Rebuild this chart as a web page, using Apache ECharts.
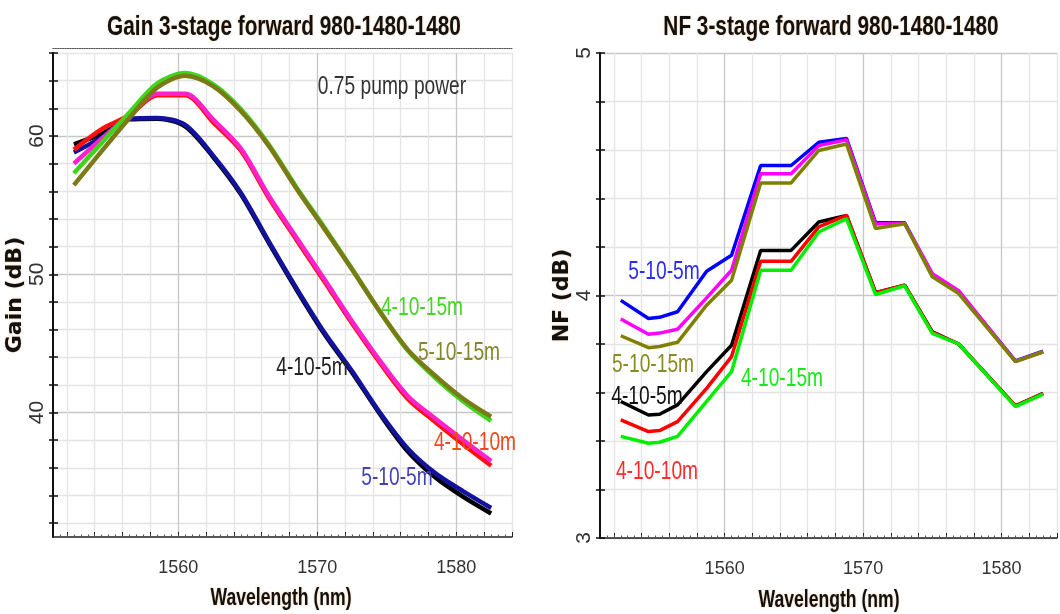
<!DOCTYPE html>
<html>
<head>
<meta charset="utf-8">
<title>Gain and NF, 3-stage forward 980-1480-1480</title>
<script src="https://cdn.jsdelivr.net/npm/echarts@6.0.0/dist/echarts.min.js"></script>
<style>
  html, body { margin: 0; padding: 0; background: #ffffff; }
  #chart { width: 1060px; height: 614px; }
</style>
</head>
<body>
<div id="chart"></div>
<script>
// ---------- Gain (dB) versus wavelength, left panel ----------
const gainWavelength = [1552.5, 1554.5, 1556.5, 1558.5, 1560.5, 1562.5, 1564.5, 1566.5,
                        1568.5, 1570.5, 1572.5, 1574.5, 1576.5, 1578.5, 1580.5, 1582.5];
const gain_4_10_5  = [59.4, 60.15, 61.2, 61.25, 60.7, 58.5, 55.8, 52.3, 48.9, 45.7, 42.9, 39.9, 37.2, 35.3, 33.9, 32.7];
const gain_5_10_5  = [58.8, 59.9, 61.25, 61.3, 60.8, 58.6, 55.9, 52.4, 49.0, 45.8, 43.0, 40.0, 37.4, 35.6, 34.3, 33.1];
const gain_4_10_10 = [59.0, 60.5, 61.5, 62.95, 62.95, 61.0, 58.95, 55.55, 52.5, 49.5, 46.45, 43.6, 41.0, 39.3, 37.7, 36.15];
const gain_5_10_10 = [58.0, 59.8, 61.5, 63.05, 63.05, 61.2, 59.1, 55.7, 52.65, 49.65, 46.6, 43.75, 41.2, 39.55, 38.0, 36.5];
const gain_4_10_15 = [57.3, 59.5, 61.7, 63.8, 64.55, 63.75, 61.95, 59.4, 56.3, 53.4, 50.4, 47.3, 44.5, 42.5, 40.8, 39.4];
const gain_5_10_15 = [56.45, 58.9, 61.3, 63.5, 64.35, 63.6, 61.8, 59.3, 56.2, 53.3, 50.35, 47.3, 44.55, 42.65, 41.0, 39.7];

// ---------- Noise figure (dB) versus wavelength, right panel ----------
const nfWavelength = [1552.5, 1554.5, 1555.3, 1556.6, 1558.7, 1560.5, 1562.6, 1564.8,
                      1566.8, 1568.8, 1570.9, 1573.0, 1575.0, 1576.9, 1581.0, 1583.0];
const nf_5_10_5  = [3.98, 3.905, 3.91, 3.933, 4.10, 4.166, 4.536, 4.536, 4.632, 4.648, 4.30, 4.30, 4.085, 4.015, 3.73, 3.77];
const nf_5_10_10 = [3.903, 3.84, 3.845, 3.861, 3.99, 4.104, 4.502, 4.502, 4.618, 4.642, 4.295, 4.298, 4.09, 4.02, 3.728, 3.768];
const nf_5_10_15 = [3.834, 3.785, 3.79, 3.807, 3.96, 4.063, 4.464, 4.464, 4.598, 4.625, 4.276, 4.296, 4.077, 4.008, 3.727, 3.768];
const nf_4_10_5  = [3.563, 3.507, 3.51, 3.549, 3.686, 3.795, 4.186, 4.186, 4.303, 4.33, 4.012, 4.043, 3.85, 3.80, 3.545, 3.597];
const nf_4_10_10 = [3.487, 3.439, 3.443, 3.480, 3.617, 3.748, 4.141, 4.141, 4.283, 4.33, 4.012, 4.043, 3.848, 3.80, 3.545, 3.595];
const nf_4_10_15 = [3.419, 3.391, 3.395, 3.419, 3.563, 3.686, 4.104, 4.104, 4.262, 4.317, 4.004, 4.040, 3.844, 3.80, 3.542, 3.593];

// ---------- axis ticks and tick labels ----------
const wlTicks  = [1552, 1554, 1556, 1558, 1560, 1562, 1564, 1566, 1568, 1570, 1572, 1574, 1576, 1578, 1580, 1582, 1584];
const wlLabels = [1560, 1570, 1580];
const gainTicks  = [32, 34, 36, 38, 40, 42, 44, 46, 48, 50, 52, 54, 56, 58, 60, 62, 64, 66];
const gainLabels = [40, 50, 60];
const nfTicks  = [3.0, 3.2, 3.4, 3.6, 3.8, 4.0, 4.2, 4.4, 4.6, 4.8, 5.0];
const nfLabels = [3, 4, 5];

// fine ticks along the wavelength axes, every half nanometre
const wlFineTicks = [];
for (let w = 1551.5; w < 1584; w += 0.5) wlFineTicks.push(w);

// ---------- styling ----------
const SANS = '"Liberation Sans",Arial,sans-serif';
const GRID_MINOR = '#e4e4e4';
const GRID_MAJOR = '#c6c6c6';
const HALO = 'rgba(235,150,60,0.55)';

const pairs = (xs, ys) => xs.map((x, i) => [x, ys[i]]);
const plain = v => String(v);

function wlAxis(gridIndex) {
  return {
    gridIndex, type: 'value', min: 1551, max: 1584, position: 'bottom',
    axisLine: { show: true, onZero: false, lineStyle: { color: '#222', width: 1.5 } },
    axisTick: { show: true, inside: true, length: 5, customValues: wlTicks, lineStyle: { color: '#222', width: 1 } },
    axisLabel: { customValues: wlLabels, formatter: plain, margin: 22, color: '#333', fontSize: 18, fontFamily: SANS },
    splitLine: { show: true, lineStyle: { color: [GRID_MINOR, GRID_MINOR, GRID_MINOR, GRID_MINOR, GRID_MAJOR], width: 1.3 } }
  };
}
function wlFineAxis(gridIndex) {
  return {
    gridIndex, type: 'value', min: 1551, max: 1584, position: 'bottom',
    axisLine: { show: false }, axisLabel: { show: false }, splitLine: { show: false },
    axisTick: { show: true, inside: true, length: 2.5, customValues: wlFineTicks, lineStyle: { color: '#555', width: 1 } }
  };
}
function valueAxis(gridIndex, min, max, ticks, labels, colors, name, nameGap) {
  return {
    gridIndex, type: 'value', min, max, position: 'left',
    axisLine: { show: true, onZero: false, lineStyle: { color: '#111', width: 2 } },
    axisTick: { show: true, inside: false, length: 4, customValues: ticks, lineStyle: { color: '#111', width: 1.5 } },
    axisLabel: { customValues: labels, formatter: plain, rotate: 90, margin: 5, color: '#333', fontSize: 21, fontFamily: SANS },
    splitLine: { show: true, lineStyle: { color: colors, width: 1.3 } },
    name, nameLocation: 'middle', nameRotate: 90, nameGap,
    nameTextStyle: { fontSize: 22, fontWeight: 'bold', fontFamily: '"DejaVu Sans",sans-serif', color: '#111',
                     textShadowColor: HALO, textShadowBlur: 2 }
  };
}
function valueTickAxis(gridIndex, min, max, ticks) {
  return {
    gridIndex, type: 'value', min, max, position: 'left',
    axisLine: { show: false }, axisLabel: { show: false }, splitLine: { show: false },
    axisTick: { show: true, inside: true, length: 5, customValues: ticks, lineStyle: { color: '#111', width: 1.5 } }
  };
}
function line(name, xs, ys, xAxisIndex, yAxisIndex, color, width, smooth) {
  return {
    type: 'line', name, xAxisIndex, yAxisIndex, data: pairs(xs, ys),
    symbol: 'none', smooth, lineStyle: { color, width }, itemStyle: { color }
  };
}

// narrow, tall lettering: regular sans squeezed horizontally
function text(t, x, y, color, size, weight, halo) {
  return {
    type: 'text', x, y, z: 100, scaleX: 0.8, scaleY: 1.08,
    style: { text: t, fill: color, fontSize: size, fontWeight: weight, fontFamily: SANS,
             align: 'center', verticalAlign: 'middle', textAlign: 'center', textVerticalAlign: 'middle',
             shadowColor: halo ? HALO : 'transparent', shadowBlur: halo ? 2 : 0,
             textShadowColor: halo ? HALO : 'transparent', textShadowBlur: halo ? 2 : 0 }
  };
}

// titles, axis captions and notes inside the panels
const headings = [
  { text: 'Gain 3-stage forward 980-1480-1480', x: 284, y: 27 },
  { text: 'NF 3-stage forward 980-1480-1480',   x: 831, y: 27 },
  { text: 'Wavelength (nm)', x: 281, y: 598 },
  { text: 'Wavelength (nm)', x: 829, y: 600 }
];
const notes = [
  { text: '0.75 pump power', x: 392, y: 87,  color: '#333333' },
  { text: '4-10-15m',        x: 422, y: 308, color: '#45d625' },
  { text: '5-10-15m',        x: 459, y: 353, color: '#86862a' },
  { text: '4-10-5m',         x: 312, y: 368, color: '#222222' },
  { text: '4-10-10m',        x: 475, y: 443, color: '#ea4a1c' },
  { text: '5-10-5m',         x: 397, y: 478, color: '#4343b4' },
  { text: '5-10-5m',         x: 664, y: 272, color: '#2a2aff' },
  { text: '5-10-15m',        x: 653, y: 365, color: '#8a8a22' },
  { text: '4-10-5m',         x: 647, y: 397, color: '#111111' },
  { text: '4-10-15m',        x: 782, y: 379, color: '#18e818' },
  { text: '4-10-10m',        x: 657, y: 472, color: '#ff2a2a' }
];

const chart = echarts.init(document.getElementById('chart'), null, { renderer: 'canvas' });

chart.setOption({
  animation: false,
  backgroundColor: '#ffffff',
  grid: [
    { left: 53, top: 53, width: 459, height: 484 },
    { left: 600, top: 53, width: 457, height: 485 }
  ],
  xAxis: [
    wlAxis(0),
    wlFineAxis(0),
    { gridIndex: 0, type: 'value', min: 1551, max: 1584, position: 'top', offset: 5,
      axisLine: { show: true, onZero: false, lineStyle: { color: '#555', width: 1.2, type: 'dotted' } },
      axisTick: { show: false }, axisLabel: { show: false }, splitLine: { show: false } },
    wlAxis(1),
    wlFineAxis(1)
  ],
  yAxis: [
    valueAxis(0, 31, 66, gainTicks, gainLabels,
              [GRID_MINOR, GRID_MINOR, GRID_MINOR, GRID_MINOR, GRID_MAJOR], 'Gain (dB)', 22),
    valueTickAxis(0, 31, 66, gainTicks),
    valueAxis(1, 3, 5, nfTicks, nfLabels,
              [GRID_MAJOR, GRID_MINOR, GRID_MINOR, GRID_MINOR, GRID_MINOR], 'NF (dB)', 21),
    valueTickAxis(1, 3, 5, nfTicks)
  ],
  series: [
    line('4-10-5m',  gainWavelength, gain_4_10_5,  0, 0, '#000000', 4.5, 0.3),
    line('5-10-5m',  gainWavelength, gain_5_10_5,  0, 0, '#12129c', 4.5, 0.3),
    line('4-10-10m', gainWavelength, gain_4_10_10, 0, 0, '#ff1010', 4.5, 0.3),
    line('5-10-10m', gainWavelength, gain_5_10_10, 0, 0, '#ff22cc', 4.5, 0.3),
    line('4-10-15m', gainWavelength, gain_4_10_15, 0, 0, '#3ed51c', 4.5, 0.3),
    line('5-10-15m', gainWavelength, gain_5_10_15, 0, 0, '#7a7a16', 4.5, 0.3),

    line('5-10-5m',  nfWavelength, nf_5_10_5,  3, 2, '#0000ff', 3.5, false),
    line('5-10-10m', nfWavelength, nf_5_10_10, 3, 2, '#ff00ff', 3.5, false),
    line('5-10-15m', nfWavelength, nf_5_10_15, 3, 2, '#808000', 3.5, false),
    line('4-10-5m',  nfWavelength, nf_4_10_5,  3, 2, '#000000', 3.5, false),
    line('4-10-10m', nfWavelength, nf_4_10_10, 3, 2, '#ff0000', 3.5, false),
    line('4-10-15m', nfWavelength, nf_4_10_15, 3, 2, '#00ee00', 3.5, false)
  ],
  graphic: [
    ...headings.slice(0, 2).map(h => text(h.text, h.x, h.y, '#111111', 26, 'bold', true)),
    ...headings.slice(2).map(h => text(h.text, h.x, h.y, '#111111', 22, 'bold', true)),
    ...notes.map(n => text(n.text, n.x, n.y, n.color, 24, 'normal', false))
  ]
});
</script>
</body>
</html>
